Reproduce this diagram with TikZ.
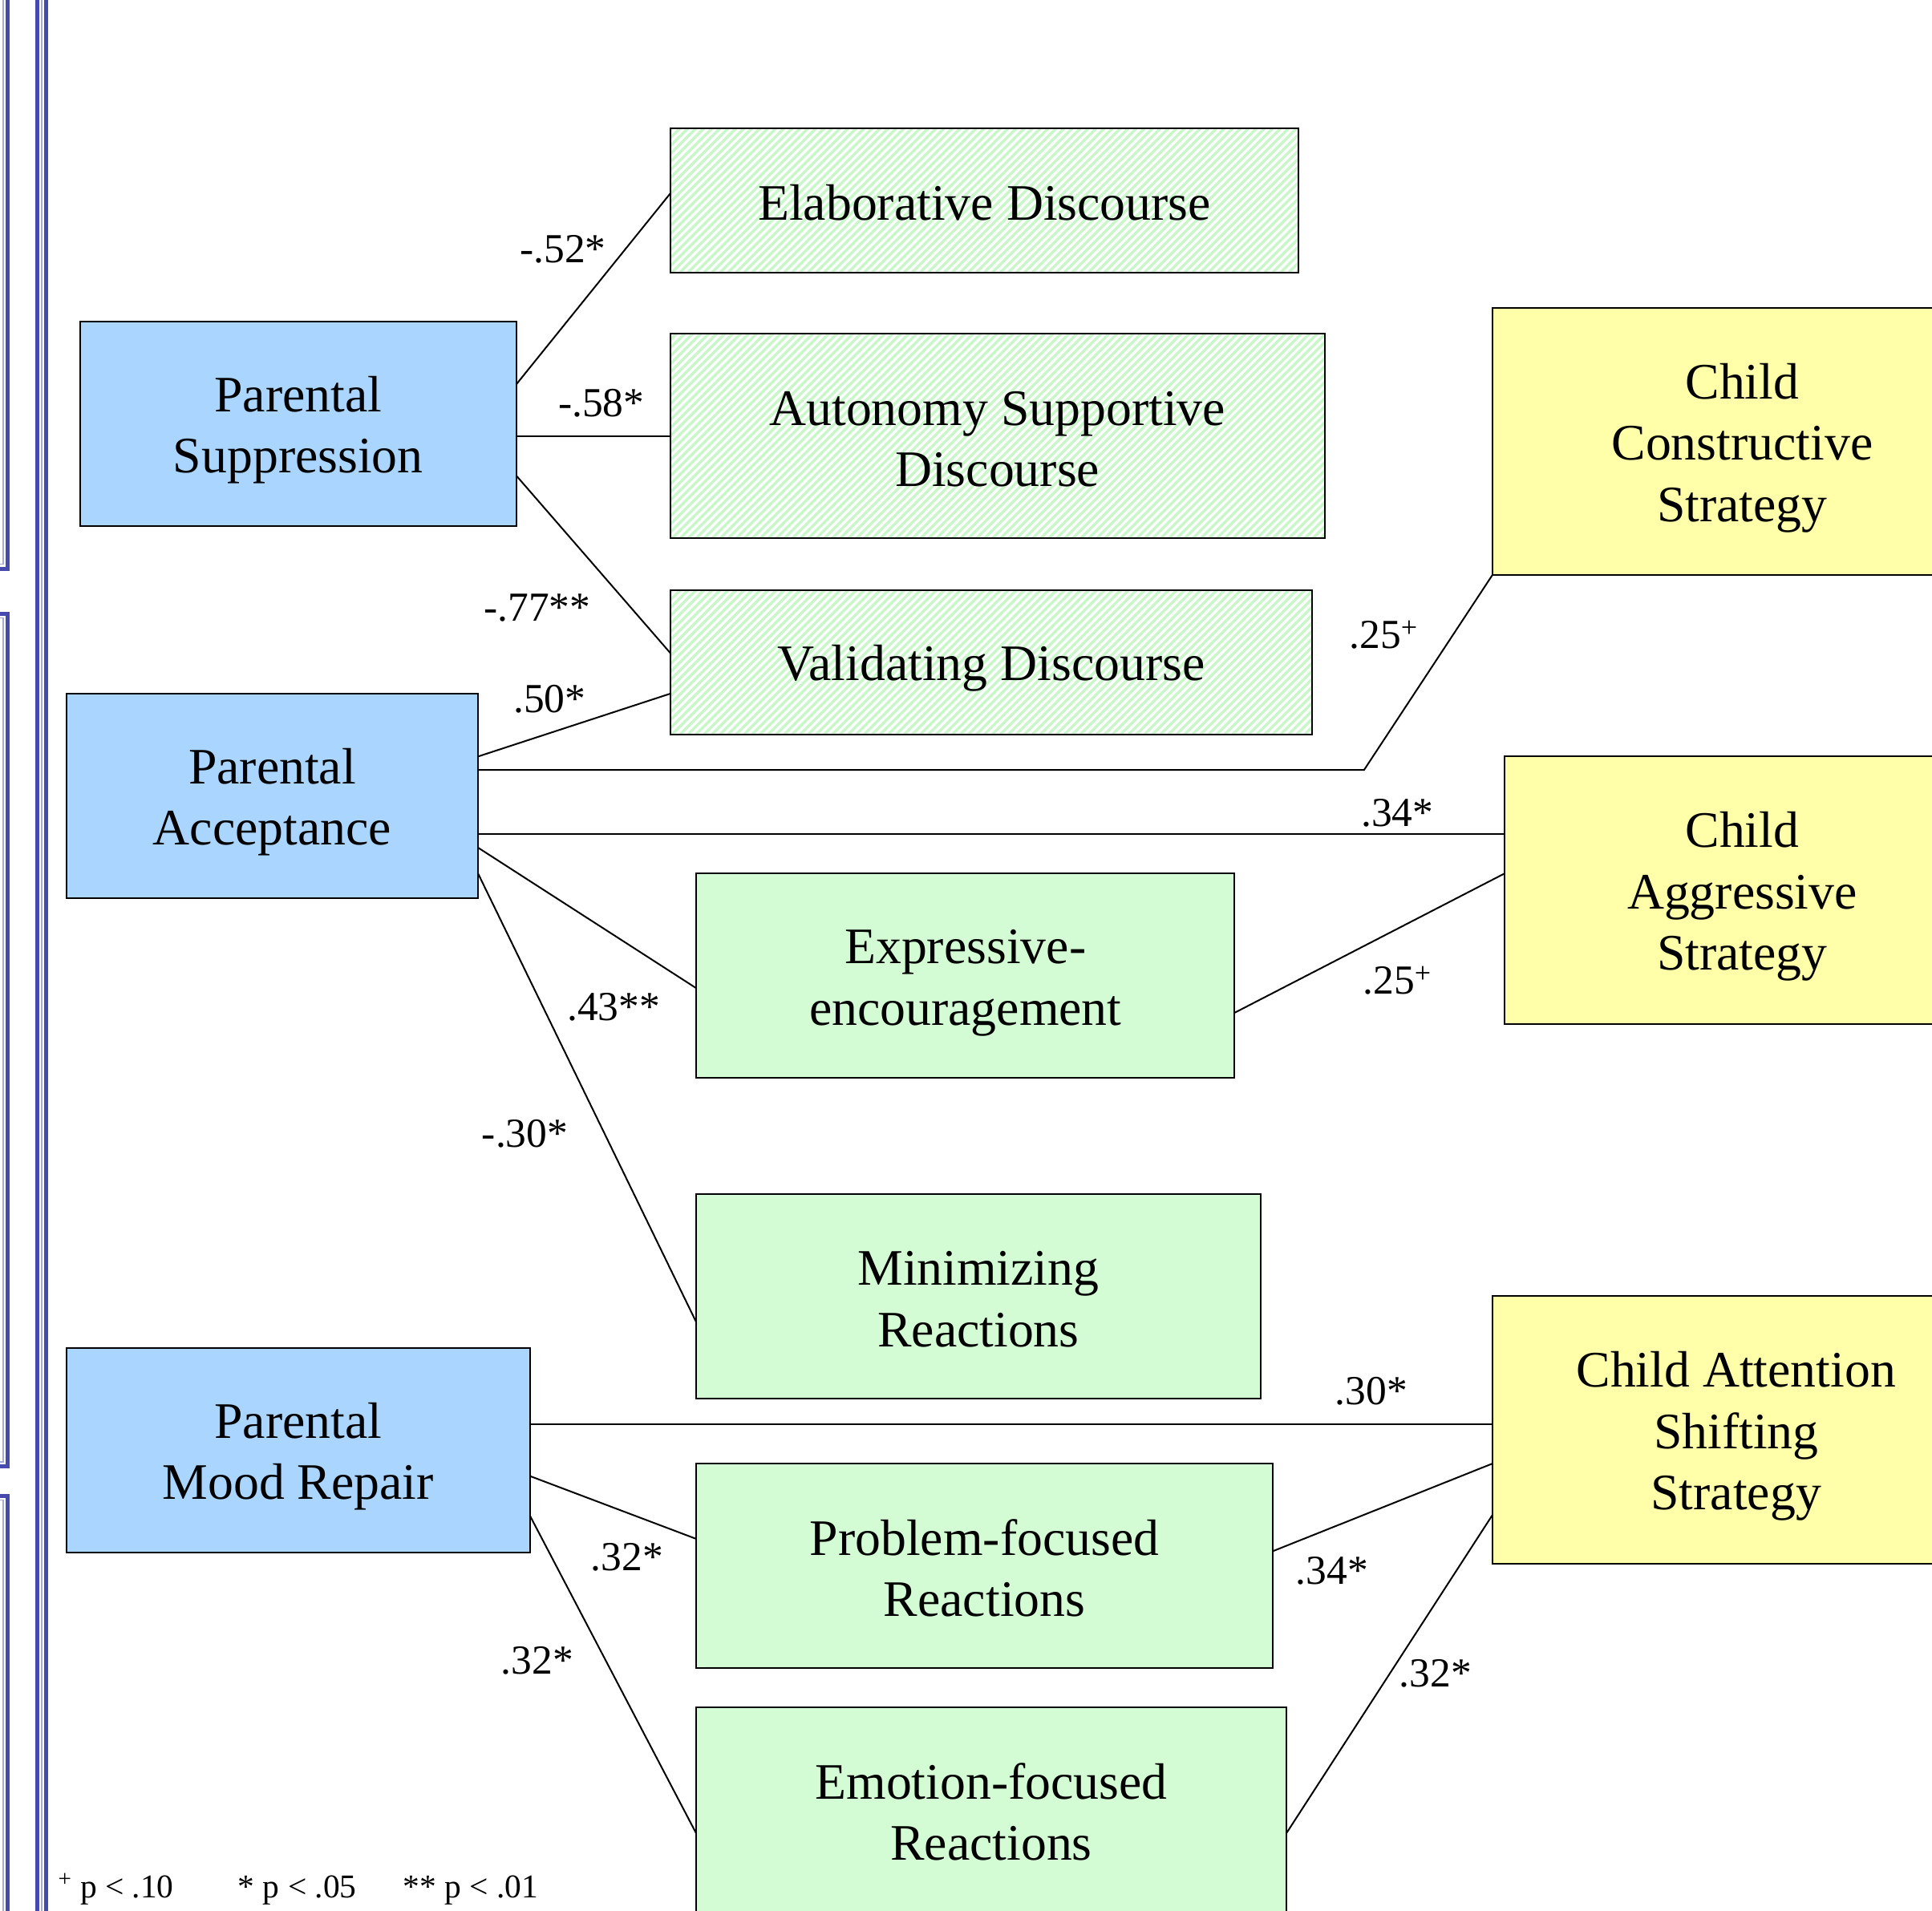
\documentclass[tikz,border=0pt]{standalone}
\usepackage{fontspec}
\setmainfont{Liberation Serif}
\usetikzlibrary{calc}
\definecolor{boxblue}{RGB}{170,213,255}
\definecolor{boxgreen}{RGB}{212,252,212}
\definecolor{boxyellow}{RGB}{255,255,170}
\definecolor{hatchgreen}{RGB}{202,247,202}
\definecolor{framblue}{RGB}{70,74,175}
\definecolor{framlav}{RGB}{165,170,225}
\pgfdeclarelayer{bg}
\pgfsetlayers{bg,main}
\newcommand\ls{\rule[-0.166em]{0pt}{1.107em}}
\tikzset{
  box/.style={draw=black, line width=1.3pt, inner sep=0pt, outer sep=0pt, align=center,
    font=\fontsize{41.5}{49.8}\selectfont},
  bluebox/.style={box, fill=boxblue},
  greenbox/.style={box, fill=boxgreen},
  yellowbox/.style={box, fill=boxyellow},
  hatchbox/.style={box},
  conn/.style={draw=black, line width=1.3pt},
  coef/.style={anchor=base, inner sep=0pt, font=\fontsize{33.5}{40}\selectfont},
  foot/.style={anchor=base west, inner sep=0pt, font=\fontsize{27}{32}\selectfont},
  hatchline/.style={draw=hatchgreen, line width=2.3pt},
  frameblue/.style={draw=framblue, line width=3.3pt},
  framelav/.style={draw=framlav, line width=1pt}
}
\newcommand\myhatch[1]{%
  \begin{pgfonlayer}{bg}
  \begin{scope}
    \clip (#1.south west) rectangle (#1.north east);
    \foreach \k in {0,...,125}{%
      \draw[hatchline] ([xshift=\k*6.5pt-200pt]#1.south west) -- ++(230,-230);
    }
  \end{scope}
  \end{pgfonlayer}}
\begin{document}
\begin{tikzpicture}[x=1pt,y=-1pt]
\useasboundingbox (0,0) rectangle (1568,1551);

% left decorations
\draw[frameblue] (30.5,-10) -- (30.5,1561);
\draw[frameblue] (37.2,-10) -- (37.2,1561);
\draw[framelav] (33.8,-10) -- (33.8,1561);
\draw[frameblue] (-10,461.5) -- (6.2,461.5) -- (6.2,-10);
\draw[framelav] (-10,458) -- (2.7,458) -- (2.7,-10);
\draw[frameblue] (-10,498) -- (6.2,498) -- (6.2,1190) -- (-10,1190);
\draw[framelav] (-10,501.5) -- (2.7,501.5) -- (2.7,1186.5) -- (-10,1186.5);
\draw[frameblue] (-10,1214) -- (6.2,1214) -- (6.2,1561);
\draw[framelav] (-10,1217.5) -- (2.7,1217.5) -- (2.7,1561);

% boxes
\node[hatchbox, minimum width=510, minimum height=117] (elab) at (799,162.5) {\ls Elaborative Discourse};
\node[hatchbox, minimum width=531, minimum height=166] (auton) at (809.5,354) {\ls Autonomy Supportive\\\ls Discourse};
\node[hatchbox, minimum width=521, minimum height=117] (valid) at (804.5,537.5) {\ls Validating Discourse};
\myhatch{elab}
\myhatch{auton}
\myhatch{valid}

\node[bluebox, minimum width=354, minimum height=166] (supp) at (242,344) {\ls Parental\\\ls Suppression};
\node[bluebox, minimum width=334, minimum height=166] (acc) at (221,646) {\ls Parental\\\ls Acceptance};
\node[bluebox, minimum width=376, minimum height=166] (mood) at (242,1177) {\ls Parental\\\ls Mood Repair};

\node[yellowbox, minimum width=406, minimum height=217] (constr) at (1414,358.5) {\ls Child\\\ls Constructive\\\ls Strategy};
\node[yellowbox, minimum width=386, minimum height=217] (aggr) at (1414,722.5) {\ls Child\\\ls Aggressive\\\ls Strategy};
\node[yellowbox, minimum width=396, minimum height=217] (attn) at (1409,1160.5) {\ls Child Attention\\\ls Shifting\\\ls Strategy};

\node[greenbox, minimum width=437, minimum height=166] (expr) at (783.5,792) {\ls Expressive-\\\ls encouragement};
\node[greenbox, minimum width=458, minimum height=166] (minim) at (794,1052) {\ls Minimizing\\\ls Reactions};
\node[greenbox, minimum width=468, minimum height=166] (prob) at (799,1271) {\ls Problem-focused\\\ls Reactions};
\node[greenbox, minimum width=479, minimum height=166] (emot) at (804.5,1469) {\ls Emotion-focused\\\ls Reactions};

% connectors
\draw[conn] ([yshift=32pt]supp.east) -- ([yshift=5.5pt]elab.west);
\draw[conn] (supp.east |- auton.west) -- (auton.west);
\draw[conn] ([yshift=-42pt]supp.east) -- ([yshift=7.5pt]valid.west);
\draw[conn] ([yshift=32pt]acc.east) -- ([yshift=-25.5pt]valid.west);
\coordinate (a2) at ([yshift=21pt]acc.east);
\coordinate (bendx) at (1107,0);
\draw[conn] (a2) -- (a2 -| bendx) -- (constr.south west);
\coordinate (a4) at ([yshift=-31pt]acc.east);
\draw[conn] (a4) -- (a4 -| aggr.west);
\draw[conn] ([yshift=-42pt]acc.east) -- ([yshift=-10pt]expr.west);
\draw[conn] ([yshift=-63pt]acc.east) -- ([yshift=-21pt]minim.west);
\draw[conn] ([yshift=-30pt]expr.east) -- ([yshift=13.5pt]aggr.west);
\coordinate (m1) at ([yshift=21pt]mood.east);
\draw[conn] (m1) -- (m1 -| attn.west);
\draw[conn] ([yshift=-21pt]mood.east) -- ([yshift=22pt]prob.west);
\draw[conn] ([yshift=-53pt]mood.east) -- ([yshift=-19pt]emot.west);
\draw[conn] ([yshift=12pt]prob.east) -- ([yshift=-27.5pt]attn.west);
\draw[conn] ([yshift=-19pt]emot.east) -- ([yshift=-69.5pt]attn.west);

% coefficients
\node[coef] (l1) at (457,213) {-.52*};
\node[coef] (l2) at (488,338) {-.58*};
\node[coef] (l3) at (436,504) {-.77**};
\node[coef] (l4) at (446,578) {.50*};
\node[coef] (l5) at (1123,526) {.25\textsuperscript{+}};
\node[coef] (l6) at (1134,671) {.34*};
\node[coef] (l7) at (498,828) {.43**};
\node[coef] (l8) at (426,931) {-.30*};
\node[coef] (l9) at (1134,807) {.25\textsuperscript{+}};
\node[coef] (l10) at (1113,1140) {.30*};
\node[coef] (l11) at (509,1275) {.32*};
\node[coef] (l12) at (436,1359) {.32*};
\node[coef] (l13) at (1081,1286) {.34*};
\node[coef] (l14) at (1165,1369) {.32*};

% footnote
\node[foot] (f1) at (47,1540) {\textsuperscript{+} p < .10};
\node[foot] (f2) at (193,1540) {* p < .05};
\node[foot] (f3) at (327,1540) {** p < .01};
\end{tikzpicture}
\end{document}
